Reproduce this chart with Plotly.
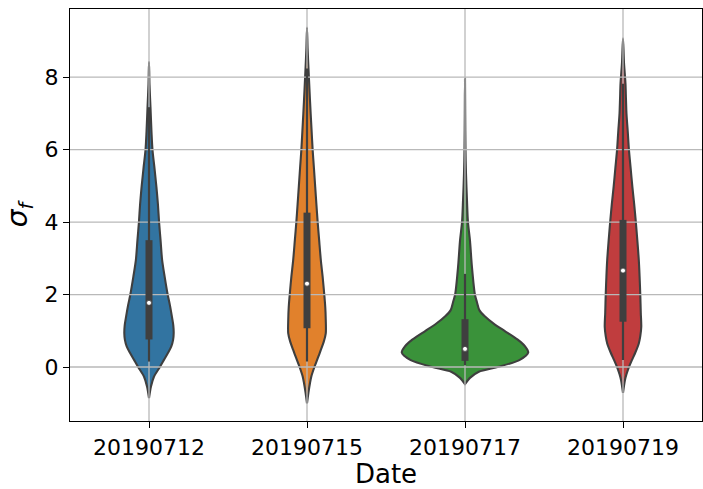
import plotly.graph_objects as go

# Dates on the category axis
dates = ["20190712", "20190715", "20190717", "20190719"]
colors = ["#3274a1", "#e1812c", "#3a923a", "#c03d3e"]

# Box statistics of sigma_f per date
q1 = [0.76, 1.07, 0.17, 1.25]
median = [1.77, 2.30, 0.50, 2.66]
q3 = [3.50, 4.26, 1.32, 4.06]
whisker_lo = [0.15, 0.15, 0.05, 0.19]
whisker_hi = [7.17, 8.24, 2.57, 7.82]

# Kernel density profiles (sigma_f level, relative density)
levels_0712 = [8.42, 7.8, 7.17, 6.5, 6.0, 5.5, 4.97, 4.5, 4.0, 3.5, 2.95, 2.5, 2.0, 1.7,
               1.39, 1.15, 0.93, 0.75, 0.56, 0.38, 0.19, 0.0, -0.27, -0.54, -0.86]
density_0712 = [0, 0.5, 1.5, 2.5, 3.5, 5.5, 7.5, 9, 10.2, 11.7, 13.3, 15.8, 18.9, 21.2,
                23.2, 24.6, 25, 24.4, 22.5, 19, 15, 11, 5, 2, 0]

levels_0715 = [9.37, 8.8, 8.24, 7.6, 7.0, 6.5, 6.0, 5.5, 4.97, 4.5, 4.0, 3.5, 2.95, 2.5,
               2.0, 1.65, 1.30, 0.93, 0.7, 0.47, 0.25, 0.0, -0.25, -0.45, -0.7, -1.0]
density_0715 = [0, 0.6, 1.5, 2.6, 3.7, 4.7, 5.7, 7, 8.3, 9.5, 10.8, 12.3, 14, 15.8,
                17.5, 18.5, 19, 19, 17, 14, 11, 7.5, 4.5, 3, 1.5, 0]

levels_0717 = [7.96, 7.0, 6.0, 5.34, 4.6, 4.0, 3.5, 2.77, 2.0, 1.8, 1.57, 1.4, 1.2, 1.0,
               0.84, 0.7, 0.56, 0.40, 0.19, 0.0, -0.13, -0.3, -0.47]
density_0717 = [0, 0.2, 0.5, 1, 2, 3, 5, 7, 10, 12, 14.5, 20, 29, 40,
                49, 56, 61, 64, 55, 33, 14, 5, 0]

levels_0719 = [9.07, 8.4, 7.82, 7.4, 7.0, 6.5, 6.0, 5.5, 4.97, 4.5, 4.0, 3.5, 2.95, 2.5,
               2.0, 1.5, 1.11, 0.85, 0.65, 0.4, 0.19, 0.0, -0.2, -0.36, -0.71]
density_0719 = [0, 1, 2.5, 3, 3.5, 4.8, 6, 7.7, 9.5, 11.3, 13, 14.5, 16, 16.8,
                17.5, 18, 18.5, 17.5, 16, 12.5, 9, 6, 3.5, 2, 0]

y_ticks = [0, 2, 4, 6, 8]
y_range = [-1.49, 9.88]
x_range = [-0.5, 3.5]

profiles = [
    (levels_0712, density_0712),
    (levels_0715, density_0715),
    (levels_0717, density_0717),
    (levels_0719, density_0719),
]

VIOLIN_HALF = 0.4
EDGE = "#3f3f3f"
peak = max(max(d) for _, d in profiles)

fig = go.Figure()

# Violin bodies
for i, (lev, dens) in enumerate(profiles):
    half = [VIOLIN_HALF * d / peak for d in dens]
    xs = [i + h for h in half] + [i - h for h in reversed(half)]
    ys = list(lev) + list(reversed(lev))
    fig.add_trace(go.Scatter(
        x=xs, y=ys, mode="lines", fill="toself", fillcolor=colors[i],
        line=dict(color=EDGE, width=2.1, shape="spline", smoothing=0.8),
        hoverinfo="skip", showlegend=False,
    ))

# Grid drawn over the violin bodies, under the box glyphs
gx, gy = [], []
for t in y_ticks:
    gx += [x_range[0], x_range[1], None]
    gy += [t, t, None]
for i in range(len(dates)):
    gx += [i, i, None]
    gy += [y_range[0], y_range[1], None]
fig.add_trace(go.Scatter(x=gx, y=gy, mode="lines",
                         line=dict(color="#b9b9b9", width=1.3),
                         hoverinfo="skip", showlegend=False))

# Whiskers
wx, wy = [], []
for i in range(len(dates)):
    wx += [i, i, None]
    wy += [whisker_lo[i], whisker_hi[i], None]
fig.add_trace(go.Scatter(x=wx, y=wy, mode="lines",
                         line=dict(color=EDGE, width=2.2),
                         hoverinfo="skip", showlegend=False))

# Inter-quartile boxes
bx, by = [], []
for i in range(len(dates)):
    bx += [i, i, None]
    by += [q1[i], q3[i], None]
fig.add_trace(go.Scatter(x=bx, y=by, mode="lines",
                         line=dict(color=EDGE, width=7),
                         hoverinfo="skip", showlegend=False))

# Medians
fig.add_trace(go.Scatter(
    x=list(range(len(dates))), y=median, mode="markers",
    marker=dict(color="white", size=5, line=dict(color=EDGE, width=0.8)),
    hoverinfo="skip", showlegend=False,
))

axis_common = dict(
    showline=True, mirror=True, linecolor="black", linewidth=1.2,
    ticks="outside", ticklen=6, tickwidth=1.2, tickcolor="black",
    showgrid=False, zeroline=False,
    tickfont=dict(family="DejaVu Sans", size=22, color="black"),
)

fig.update_layout(
    width=703, height=489,
    margin=dict(l=70, r=1, t=9, b=68),
    paper_bgcolor="white", plot_bgcolor="white",
    font=dict(family="DejaVu Sans", color="black"),
    xaxis=dict(
        range=x_range, tickmode="array",
        tickvals=list(range(len(dates))), ticktext=dates,
        title=dict(text="Date", font=dict(family="DejaVu Sans", size=26), standoff=4),
        **axis_common,
    ),
    yaxis=dict(
        range=y_range, tickmode="array", tickvals=y_ticks,
        ticktext=[str(t) for t in y_ticks],
        title=dict(text="<i>σ</i><sub><i>f</i></sub>",
                   font=dict(family="DejaVu Sans", size=28), standoff=8),
        **axis_common,
    ),
)

fig.write_html("out.html")
